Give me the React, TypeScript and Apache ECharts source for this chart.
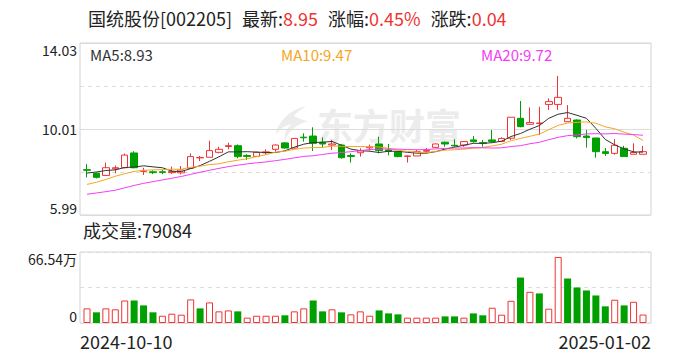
import React, { useEffect, useRef } from 'react';
import * as echarts from 'echarts';

const dates = [
  '2024-10-10','2024-10-11','2024-10-14','2024-10-15','2024-10-16','2024-10-17','2024-10-18','2024-10-21','2024-10-22','2024-10-23',
  '2024-10-24','2024-10-25','2024-10-28','2024-10-29','2024-10-30','2024-10-31','2024-11-01','2024-11-04','2024-11-05','2024-11-06',
  '2024-11-07','2024-11-08','2024-11-11','2024-11-12','2024-11-13','2024-11-14','2024-11-15','2024-11-18','2024-11-19','2024-11-20',
  '2024-11-21','2024-11-22','2024-11-25','2024-11-26','2024-11-27','2024-11-28','2024-11-29','2024-12-02','2024-12-03','2024-12-04',
  '2024-12-05','2024-12-06','2024-12-09','2024-12-10','2024-12-11','2024-12-12','2024-12-13','2024-12-16','2024-12-17','2024-12-18',
  '2024-12-19','2024-12-20','2024-12-23','2024-12-24','2024-12-25','2024-12-26','2024-12-27','2024-12-30','2024-12-31','2025-01-02',
];

const opens = [
  8.11, 7.94, 7.84, 8.15, 8.20, 8.89, 8.03, 8.01, 8.01, 7.97,
  7.96, 8.17, 8.66, 8.69, 8.92, 9.19, 9.23, 8.77, 8.73, 8.90,
  9.06, 9.36, 9.12, 9.63, 9.68, 9.39, 9.26, 9.26, 8.77, 8.90,
  9.13, 9.31, 9.03, 8.94, 8.73, 8.75, 8.97, 9.15, 9.39, 9.25,
  9.26, 9.50, 9.37, 9.50, 9.43, 9.58, 10.51, 10.23, 10.27, 11.16,
  11.16, 10.35, 10.43, 9.68, 9.59, 8.95, 8.87, 9.11, 8.83, 8.83,
];
const closes = [
  8.08, 7.75, 8.20, 8.20, 8.79, 8.20, 8.05, 7.97, 7.98, 8.02,
  8.09, 8.72, 8.68, 9.00, 9.06, 9.23, 8.72, 8.73, 8.92, 8.94,
  9.26, 9.12, 9.57, 9.60, 9.34, 9.31, 9.31, 8.67, 8.73, 8.99,
  9.17, 9.00, 8.97, 8.72, 8.75, 8.95, 9.01, 9.31, 9.31, 9.22,
  9.42, 9.42, 9.34, 9.43, 9.57, 10.56, 10.12, 10.31, 10.29, 11.29,
  11.49, 10.51, 9.65, 9.61, 8.95, 8.87, 9.25, 8.72, 8.91, 8.95,
];
const lows = [
  7.75, 7.70, 7.81, 7.94, 8.17, 8.17, 7.86, 7.90, 7.90, 7.91,
  7.89, 8.16, 8.51, 8.68, 8.87, 9.06, 8.64, 8.56, 8.72, 8.81,
  8.95, 9.09, 9.09, 9.42, 8.98, 9.15, 9.03, 8.62, 8.44, 8.72,
  9.00, 8.87, 8.78, 8.69, 8.44, 8.75, 8.87, 9.15, 9.18, 9.18,
  9.18, 9.37, 9.18, 9.37, 9.40, 9.50, 10.09, 10.23, 9.73, 10.90,
  10.90, 10.35, 9.57, 9.14, 8.67, 8.75, 8.81, 8.72, 8.83, 8.83,
];
const highs = [
  8.37, 7.97, 8.44, 8.30, 8.86, 8.97, 8.20, 8.08, 8.10, 8.25,
  8.28, 8.87, 8.75, 9.46, 9.18, 9.37, 9.29, 8.83, 8.95, 9.06,
  9.29, 9.40, 9.58, 9.81, 10.09, 9.62, 9.50, 9.29, 8.87, 9.11,
  9.28, 9.65, 9.31, 8.97, 8.78, 9.04, 9.12, 9.34, 9.42, 9.53,
  9.45, 9.68, 9.50, 9.96, 9.62, 10.56, 11.32, 11.02, 11.05, 11.44,
  12.49, 11.13, 10.46, 9.96, 9.59, 9.12, 9.53, 9.22, 9.34, 9.22,
];

const ma5 = [
  7.95, 8.00, 8.07, 8.10, 8.21, 8.23, 8.29, 8.24, 8.20, 8.04,
  8.02, 8.16, 8.30, 8.50, 8.71, 8.94, 8.94, 8.95, 8.93, 8.91,
  8.91, 8.99, 9.16, 9.30, 9.38, 9.39, 9.43, 9.25, 9.07, 9.00,
  8.97, 8.91, 8.97, 8.97, 8.92, 8.88, 8.88, 8.95, 9.07, 9.16,
  9.25, 9.34, 9.34, 9.37, 9.44, 9.66, 9.80, 10.00, 10.17, 10.51,
  10.70, 10.78, 10.65, 10.51, 10.04, 9.52, 9.27, 9.08, 8.94, 8.93,
];
const ma10 = [
  7.42, 7.52, 7.65, 7.80, 7.92, 8.03, 8.08, 8.10, 8.11, 8.13,
  8.13, 8.22, 8.27, 8.35, 8.38, 8.48, 8.55, 8.62, 8.72, 8.81,
  8.93, 8.97, 9.06, 9.12, 9.14, 9.15, 9.21, 9.20, 9.19, 9.19,
  9.18, 9.17, 9.11, 9.02, 8.96, 8.93, 8.90, 8.96, 9.02, 9.04,
  9.07, 9.11, 9.15, 9.22, 9.30, 9.46, 9.57, 9.67, 9.77, 9.98,
  10.18, 10.29, 10.32, 10.34, 10.28, 10.11, 10.02, 9.86, 9.73, 9.47,
];
const ma20 = [
  6.96, 7.02, 7.08, 7.15, 7.26, 7.37, 7.47, 7.55, 7.63, 7.71,
  7.79, 7.89, 7.99, 8.08, 8.17, 8.25, 8.32, 8.38, 8.43, 8.47,
  8.53, 8.59, 8.66, 8.73, 8.76, 8.82, 8.88, 8.91, 8.95, 9.00,
  9.05, 9.07, 9.08, 9.07, 9.05, 9.04, 9.05, 9.08, 9.10, 9.12,
  9.12, 9.14, 9.13, 9.12, 9.13, 9.19, 9.23, 9.32, 9.39, 9.51,
  9.62, 9.70, 9.73, 9.78, 9.79, 9.78, 9.80, 9.77, 9.75, 9.72,
];

const volumes = [
  137000, 100000, 137000, 128000, 211000, 211000, 165000, 100000, 68000, 87000,
  78000, 221000, 137000, 193000, 109000, 118000, 109000, 50000, 68000, 68000,
  68000, 72000, 109000, 137000, 211000, 109000, 128000, 100000, 81000, 109000,
  68000, 118000, 90000, 81000, 50000, 50000, 50000, 50000, 62000, 62000,
  50000, 90000, 72000, 143000, 78000, 208000, 426000, 292000, 277000, 134000,
  619000, 417000, 333000, 305000, 258000, 156000, 218000, 165000, 199000, 79084,
];
// 1 = up day (hollow red), -1 = down day (solid green)
const volDir = [
  1, -1, 1, 1, 1, -1, -1, -1, 1, 1,
  1, 1, -1, 1, 1, 1, -1, 1, 1, 1,
  1, -1, 1, 1, -1, -1, 1, -1, 1, 1,
  1, -1, -1, -1, 1, 1, 1, 1, -1, -1,
  1, -1, -1, 1, 1, 1, -1, 1, -1, 1,
  1, -1, -1, -1, -1, -1, 1, -1, 1, 1,
];

const priceMin = 5.99;
const priceMax = 14.03;
const volMax = 665400;
const volMaxLabel = '66.54万';

const stockName = '国统股份';
const stockCode = '002205';
const lastPrice = '8.95';
const changePct = '0.45%';
const changeAmt = '0.04';
const lastVolume = 79084;

const RED = '#f03333';
const GREEN = '#00a000';
const FONT = '"Noto Sans CJK SC", "Noto Sans", sans-serif';

const LOGO_PATH =
  'M30 0 C14 4 2 16 0 30 C4 24 10 20 16 19 C10 24 8 30 9 36 C13 26 22 18 32 16 C24 14 20 12 18 10 C22 6 26 3 30 0 Z';

export default function App() {
  const ref = useRef<HTMLDivElement>(null);
  useEffect(() => {
    if (!ref.current) return;
    try {
      echarts.graphic.registerShape('emlogo', (echarts.graphic as any).extendPath(LOGO_PATH, {}));
    } catch (e) {
      /* ignore */
    }
    const chart = echarts.init(ref.current, undefined, { renderer: 'svg' });
    const n = dates.length;
    const frameLeft = 80;
    const frameWidth = 571;
    const plotLeft = 82.3;
    const plotWidth = 565.4;
    const mainTop = 43;
    const mainH = 172;
    const volTop = 252;
    const volH = 71;
    const gridColor = '#dcdcdc';
    const borderColor = '#d2d2d6';
    const plain = { fontWeight: 'normal' as const, fontFamily: FONT };

    const option: any = {
      animation: false,
      textStyle: { fontFamily: FONT },
      title: [
        {
          left: 88, top: 9, padding: 0,
          text: `{b|${stockName}[${stockCode}]}{s| }{b|最新:}{r|${lastPrice}}{s| }{b|涨幅:}{r|${changePct}}{s| }{b|涨跌:}{r|${changeAmt}}`,
          textStyle: {
            ...plain,
            rich: {
              b: { fontSize: 18, color: '#222', ...plain },
              r: { fontSize: 18, color: RED, ...plain },
              s: { fontSize: 18, width: 10, ...plain },
            },
          },
        },
        { left: 90, top: 47, padding: 0, text: `MA5:${ma5[n - 1].toFixed(2)}`, textStyle: { fontSize: 15, color: '#333', ...plain } },
        { left: 281, top: 47, padding: 0, text: `MA10:${ma10[n - 1].toFixed(2)}`, textStyle: { fontSize: 15, color: '#f5a623', ...plain } },
        { left: 481, top: 47, padding: 0, text: `MA20:${ma20[n - 1].toFixed(2)}`, textStyle: { fontSize: 15, color: '#f53cf5', ...plain } },
        { left: 83, top: 221, padding: 0, text: `成交量:${lastVolume}`, textStyle: { fontSize: 18, color: '#222', ...plain } },
      ],
      graphic: [
        {
          type: 'emlogo', x: 276, y: 106, scaleX: 1.0, scaleY: 0.95, z: -10, silent: true,
          style: { fill: '#ececec' },
        },
        {
          type: 'text', left: 317, top: 106, z: -10, silent: true,
          style: { text: '东方财富', font: 'bold 36px "Noto Sans CJK SC"', fill: '#ececec' },
        },
      ],
      grid: [
        { left: frameLeft, top: mainTop, width: frameWidth, height: mainH, show: true, borderColor, borderWidth: 1 },
        { left: plotLeft, top: mainTop, width: plotWidth, height: mainH },
        { left: frameLeft, top: volTop, width: frameWidth, height: volH, show: true, borderColor, borderWidth: 1 },
        { left: plotLeft, top: volTop, width: plotWidth, height: volH },
      ],
      xAxis: [
        { gridIndex: 0, type: 'value', min: 0, max: 1, show: false },
        { gridIndex: 1, type: 'category', data: dates, show: false, boundaryGap: true },
        {
          gridIndex: 2, type: 'value', min: 0, max: 1, interval: 1,
          axisLine: { show: false }, axisTick: { show: false }, splitLine: { show: false },
          axisLabel: {
            margin: 9, fontSize: 18, color: '#222', fontFamily: FONT,
            alignMinLabel: 'left', alignMaxLabel: 'right',
            formatter: (v: number) => (v === 0 ? dates[0] : dates[n - 1]),
          },
        },
        { gridIndex: 3, type: 'category', data: dates, show: false, boundaryGap: true },
      ],
      yAxis: [
        {
          gridIndex: 0, type: 'value', min: priceMin, max: priceMax, interval: 4.02,
          axisLine: { show: false }, axisTick: { show: false },
          splitLine: { show: true, lineStyle: { color: gridColor, type: 'solid' } },
          axisLabel: {
            margin: 3, fontSize: 14, color: '#222', fontFamily: FONT,
            verticalAlignMinLabel: 'bottom', verticalAlignMaxLabel: 'top',
            formatter: (v: number) => v.toFixed(2),
          },
        },
        {
          gridIndex: 0, type: 'value', min: priceMin, max: priceMax, interval: 2.01, position: 'left',
          axisLine: { show: false }, axisTick: { show: false }, axisLabel: { show: false },
          splitLine: { show: true, lineStyle: { color: gridColor, type: [4, 4] } },
        },
        { gridIndex: 1, type: 'value', min: priceMin, max: priceMax, show: false },
        {
          gridIndex: 2, type: 'value', min: 0, max: volMax, interval: volMax,
          axisLine: { show: false }, axisTick: { show: false }, splitLine: { show: false },
          axisLabel: {
            margin: 3, fontSize: 14, color: '#222', fontFamily: FONT,
            verticalAlignMinLabel: 'bottom', verticalAlignMaxLabel: 'top',
            formatter: (v: number) => (v === 0 ? '0' : volMaxLabel),
          },
        },
        {
          gridIndex: 2, type: 'value', min: 0, max: volMax, interval: volMax / 2, position: 'left',
          axisLine: { show: false }, axisTick: { show: false }, axisLabel: { show: false },
          splitLine: { show: true, lineStyle: { color: gridColor, type: [4, 4] } },
        },
        { gridIndex: 3, type: 'value', min: 0, max: volMax, show: false },
      ],
      series: [
        {
          type: 'candlestick', xAxisIndex: 1, yAxisIndex: 2, barWidth: 7,
          data: dates.map((_, i) => [opens[i], closes[i], lows[i], highs[i]]),
          itemStyle: { color: '#ffffff', color0: GREEN, borderColor: RED, borderColor0: GREEN, borderWidth: 1 },
        },
        { type: 'line', name: 'MA5', xAxisIndex: 1, yAxisIndex: 2, data: ma5, symbol: 'none', lineStyle: { width: 1, color: '#333' } },
        { type: 'line', name: 'MA10', xAxisIndex: 1, yAxisIndex: 2, data: ma10, symbol: 'none', lineStyle: { width: 1, color: '#f5a623' } },
        { type: 'line', name: 'MA20', xAxisIndex: 1, yAxisIndex: 2, data: ma20, symbol: 'none', lineStyle: { width: 1, color: '#f53cf5' } },
        {
          type: 'bar', xAxisIndex: 3, yAxisIndex: 5, barWidth: 7,
          data: volumes.map((v, i) => ({
            value: v,
            itemStyle: volDir[i] > 0
              ? { color: '#ffffff', borderColor: RED, borderWidth: 1 }
              : { color: GREEN, borderColor: GREEN, borderWidth: 0 },
          })),
        },
      ],
    };
    chart.setOption(option);
    return () => chart.dispose();
  }, []);
  return <div ref={ref} style={{ position: 'fixed', left: 0, top: 0, width: 688, height: 360, background: '#fff' }} />;
}
